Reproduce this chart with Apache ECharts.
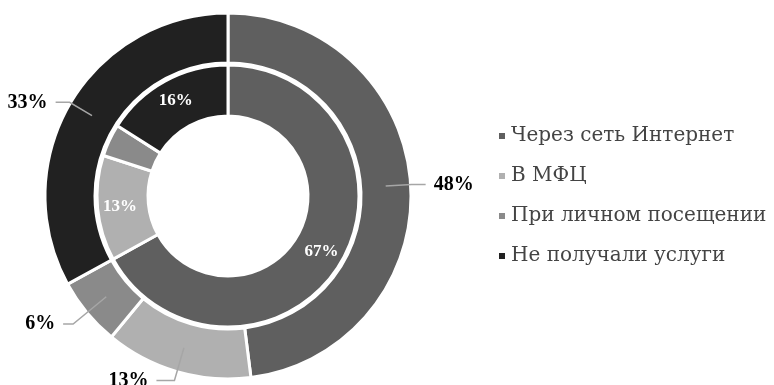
<!DOCTYPE html>
<html>
<head>
<meta charset="utf-8">
<script src="https://cdn.jsdelivr.net/npm/echarts@6/dist/echarts.min.js"></script>
<style>html,body{margin:0;padding:0;background:#fff;}#c{width:774px;height:385px;}</style>
</head>
<body>
<div id="c"></div>
<script>
var categories = ['Через сеть Интернет', 'В МФЦ', 'При личном посещении', 'Не получали услуги'];
var outerValues = [48, 13, 6, 33];
var innerValues = [67, 13, 4, 16];
var colors = ['#5f5f5f', '#b0b0b0', '#8a8a8a', '#212121'];

var chart = echarts.init(document.getElementById('c'));
var serif = "'Liberation Serif', 'DejaVu Serif', serif";

function mk(vals) {
  return categories.map(function (n, i) {
    return { name: n, value: vals[i], itemStyle: { color: colors[i] } };
  });
}

var innerData = mk(innerValues);
innerData[2].label = { show: false };

var labelData = categories.map(function (n, i) {
  return { name: n, value: outerValues[i] };
});
labelData[1].labelLine = { length: 34, length2: 18 };
labelData[2].labelLine = { length: 43, length2: 10 };

chart.setOption({
  animation: false,
  legend: {
    orient: 'vertical',
    left: 492,
    top: 121,
    itemWidth: 8,
    itemHeight: 8,
    itemGap: 20,
    icon: 'rect',
    textStyle: { fontFamily: "'DejaVu Serif', serif", fontSize: 20, color: '#444' },
    data: categories.map(function (n, i) {
      return { name: n, itemStyle: { color: colors[i] } };
    })
  },
  series: [
    {
      type: 'pie',
      center: [228, 196],
      radius: [133, 183],
      startAngle: 90,
      silent: true,
      label: { show: false },
      labelLine: { show: false },
      itemStyle: { borderColor: '#fff', borderWidth: 3 },
      data: mk(outerValues)
    },
    {
      type: 'pie',
      center: [228, 196],
      radius: [80, 131],
      startAngle: 90,
      silent: true,
      label: {
        show: true,
        position: 'inside',
        formatter: '{c}%',
        color: '#fff',
        fontFamily: serif,
        fontWeight: 'bold',
        fontSize: 17
      },
      labelLine: { show: false },
      itemStyle: { borderColor: '#fff', borderWidth: 3 },
      data: innerData
    },
    {
      type: 'pie',
      center: [228, 196],
      radius: [0, 158],
      startAngle: 90,
      silent: true,
      z: 5,
      avoidLabelOverlap: false,
      itemStyle: { color: 'rgba(0,0,0,0)', borderWidth: 0 },
      label: {
        show: true,
        position: 'outside',
        formatter: '{c}%',
        color: '#000',
        fontFamily: serif,
        fontWeight: 'bold',
        fontSize: 20,
        distanceToLabelLine: 8
      },
      labelLine: {
        show: true,
        length: 26,
        length2: 14,
        lineStyle: { color: '#a6a6a6', width: 1.5 }
      },
      data: labelData
    }
  ]
});
</script>
</body>
</html>
